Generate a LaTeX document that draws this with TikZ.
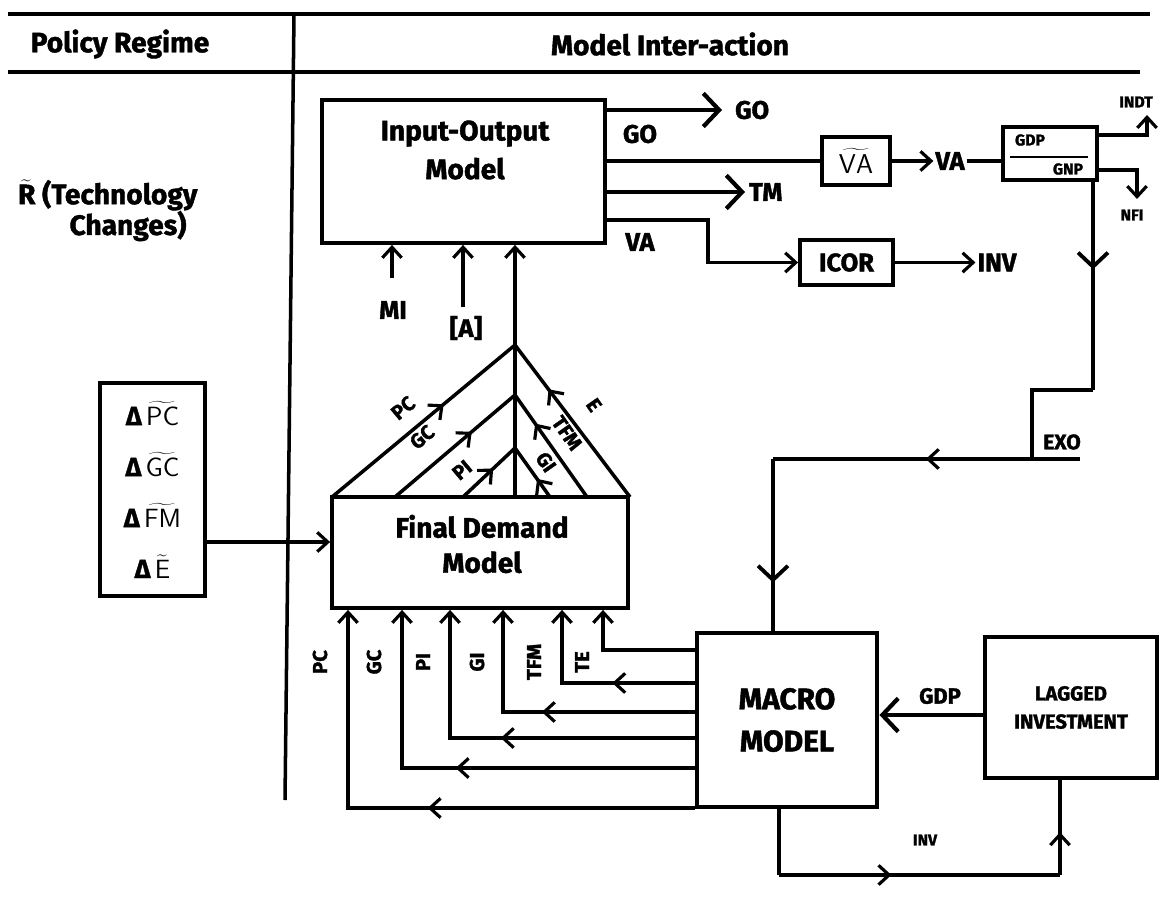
\documentclass[tikz,border=0pt]{standalone}
\usepackage{fontspec}
\setmainfont{Fira Sans}[BoldFeatures={FakeBold=1.5}]
\usetikzlibrary{arrows.meta,decorations.markings,calc}

\tikzset{
  flow/.style={line width=2pt},
  box/.style={draw, line width=2.2pt, inner sep=2pt, align=center},
  hlbl/.style={font=\bfseries\fontsize{16}{18}\selectfont, inner sep=1pt},
  lbl/.style={font=\bfseries\fontsize{14.5}{17}\selectfont, inner sep=1pt},
  tlbl/.style={font=\bfseries\fontsize{11.5}{13}\selectfont, inner sep=1pt},
  slbl/.style={font=\bfseries\fontsize{9}{10}\selectfont, inner sep=1pt},
  endbarb/.style={-{Straight Barb[length=6pt,width=11pt,line width=1.8pt]}},
  bigbarb/.style={-{Straight Barb[length=9pt,width=19pt,line width=2.4pt]}},
  midbarb/.style={postaction={decorate},
    decoration={markings, mark=at position #1 with {\arrow{Straight Barb[length=6pt,width=11pt,line width=1.8pt]}}}},
  midbigbarb/.style={postaction={decorate},
    decoration={markings, mark=at position #1 with {\arrow{Straight Barb[length=8pt,width=17pt,line width=2.2pt]}}}},
}

\begin{document}
\begin{tikzpicture}[x=0.02cm, y=-0.02cm]
\useasboundingbox (0,0) rectangle (1165,898);

% header rules
\draw[flow] (8,14) -- (1150,14);
\draw[flow] (8,72) -- (1140,72);
\draw[flow] (294,14) -- (285,800);
\node[hlbl] (polhead) at (120,44) {Policy Regime};
\node[hlbl] (modhead) at (670,44) {Model Inter-action};

% policy regime side
\node[hlbl, anchor=west] (rtech) at (16,195) {$\widetilde{\mbox{R}}$ (Technology};
\node[hlbl] (rchg) at (128,226) {Changes)};
\node[box, minimum width=2.1cm, minimum height=4.26cm, font=\fontsize{15}{17}\selectfont] (delta) at (152.5,489.5)
  {{\bfseries Δ}\,$\widetilde{\mathsf{PC}}$\\[12pt]{\bfseries Δ}\,$\widetilde{\mathsf{GC}}$\\[12pt]{\bfseries Δ}\,$\widetilde{\mathsf{FM}}$\\[12pt]{\bfseries Δ}\,$\widetilde{\mathsf{E}}$};

% model boxes
\node[box, minimum width=5.66cm, minimum height=2.86cm] (io) at (463.5,171.5) {};
\node[hlbl, align=center] (iotext) at (465,150) {Input-Output\\[4pt]Model};
\node[box, minimum width=5.92cm, minimum height=2.22cm] (fdm) at (480,552.5) {};
\node[hlbl, align=center] (fdtext) at (482,544) {Final Demand\\[2pt]Model};
\node[box, line width=2.8pt, minimum width=3.6cm, minimum height=3.48cm, font=\bfseries\fontsize{17}{20}\selectfont] (macro) at (787,720) {MACRO\\[4pt]MODEL};
\node[box, minimum width=3.44cm, minimum height=2.82cm, font=\bfseries\fontsize{11.5}{14}\selectfont] (lagged) at (1071,707.5) {LAGGED\\[2pt]INVESTMENT};
\node[box, minimum width=1.36cm, minimum height=0.96cm, font=\fontsize{15.5}{17}\selectfont] (vabox) at (856,161) {$\widetilde{\mathsf{VA}}$};
\node[box, lbl, minimum width=1.86cm, minimum height=0.9cm] (icor) at (846.5,262.5) {ICOR};
\node[box, minimum width=1.88cm, minimum height=1.06cm] (gdpbox) at (1050,153.5) {};
\node[slbl] (gdptxt) at (1030,140) {GDP};
\node[slbl] (gnptxt) at (1068,169) {GNP};
\draw[line width=1.4pt] (1010,157) -- (1088,157);

% outputs of the input-output model
\coordinate (goend) at (722,110);
\coordinate (tmend) at (745,192);
\coordinate (vabend) at (708,220);
\draw[flow, bigbarb] (io.east |- goend) -- (goend);
\node[lbl, anchor=west] (goout) at (733,110) {GO};
\node[lbl] (golbl) at (640,134) {GO};
\draw[flow] (io.east |- vabox.west) -- (vabox.west);
\node[lbl] (vaout) at (950,161) {VA};
\draw[flow, endbarb] (vabox.east) -- (vaout.west);
\draw[flow] (vaout.east) -- (gdpbox.west |- vaout.east);
\draw[flow, bigbarb] (io.east |- tmend) -- (tmend);
\node[lbl, anchor=west] (tmout) at (747,192) {TM};
\draw[flow, endbarb] (io.east |- vabend) -- (vabend) |- (icor.west);
\node[lbl] (valbl) at (640,242) {VA};
\node[lbl] (inu) at (997,262.5) {INV};
\draw[flow, endbarb] (icor.east) -- (inu.west);

% GDP / GNP outputs
\coordinate (indtc) at (1147,135);
\coordinate (indtend) at (1147,115);
\draw[flow, endbarb] (gdpbox.east |- indtc) -- (indtc) -- (indtend);
\node[slbl] (indt) at (1136,102) {INDT};
\coordinate (nfic) at (1137,170);
\coordinate (nfiend) at (1137,199);
\draw[flow, endbarb] (gdpbox.east |- nfic) -- (nfic) -- (nfiend);
\node[slbl] (nfi) at (1132,215) {NFI};

% exogenous feed to the macro model
\coordinate (c1) at (1093,390);
\coordinate (c2) at (1032,390);
\coordinate (c3) at (1032,459);
\coordinate (exoend) at (1080,459);
\coordinate (c4) at (773,459);
\draw[flow, midbigbarb=0.42] (gdpbox.south -| c1) -- (c1);
\draw[flow] (c1) -- (c2) -- (c3);
\draw[flow] (exoend) -- (c3);
\draw[flow, midbarb=0.41] (c3) -- (c4);
\draw[flow, midbigbarb=0.72] (c4) -- (macro.north -| c4);
\node[lbl, font=\bfseries\fontsize{12}{14}\selectfont] (exo) at (1062,442) {EXO};

% lagged investment loop
\coordinate (gdpline) at (930,715);
\draw[flow, bigbarb] (lagged.west |- gdpline) -- (macro.east |- gdpline);
\node[lbl, font=\bfseries\fontsize{12.5}{14}\selectfont] (gdplbl) at (940,696) {GDP};
\coordinate (m1) at (779,875);
\coordinate (m2) at (1060,875);
\draw[flow] (macro.south -| m1) -- (m1);
\draw[flow, midbarb=0.4] (m1) -- (m2);
\draw[flow, midbarb=0.45] (m2) -- (lagged.south -| m2);
\node[slbl] (invlbl) at (925,840) {INV};

% final demand to input-output
\coordinate (t1) at (515,345);
\coordinate (t2) at (515,395);
\coordinate (t3) at (515,448);
\draw[flow, endbarb] (fdm.north -| t1) -- (io.south -| t1);
\foreach \n/\x in {pc/332, gc/395, pi/463, gi/550, tfm/587, e/630}
  \coordinate (base\n) at (\x,497);
\foreach \n/\t/\p in {pc/t1/0.61, gc/t2/0.64, pi/t3/0.58, gi/t3/0.37, tfm/t2/0.72, e/t1/0.71}
  \draw[flow, midbarb=\p] (base\n) -- (\t);
\node[tlbl, rotate=40] (tpc) at (403,408) {PC};
\node[tlbl, rotate=40] (tgc) at (422,437) {GC};
\node[tlbl, rotate=40] (tpi) at (462,470) {PI};
\node[tlbl, rotate=-55] (tgi) at (546,462) {GI};
\node[tlbl, rotate=-55] (ttfm) at (567,433) {TFM};
\node[tlbl, rotate=-55] (te) at (594,405) {E};

% macro model to final demand
\foreach \n/\x/\h/\p in {pc/348/808/0.49, gc/402/768/0.53, pi/450/738/0.52, gi/503/712/0.52, tfm/562/683/0.40} {
  \coordinate (h\n) at (\x,\h);
  \draw[flow, endbarb, midbarb=\p] (macro.west |- h\n) -- (h\n) -- (fdm.south -| h\n);
}
\coordinate (hte) at (603,650);
\draw[flow, endbarb] (macro.west |- hte) -- (hte) -- (fdm.south -| hte);
\foreach \x/\lab in {320/PC, 374/GC, 423/PI, 477/GI, 534/TFM, 582/TE}
  \node[tlbl, rotate=90] (in\lab) at (\x,662) {\lab};

% policy changes to final demand
\coordinate (darrow) at (260,542);
\draw[flow, endbarb] (delta.east |- darrow) -- (fdm.west |- darrow);

% inputs to the input-output model
\coordinate (mistart) at (392,278);
\coordinate (astart) at (463,307);
\draw[flow, endbarb] (mistart) -- (io.south -| mistart);
\draw[flow, endbarb] (astart) -- (io.south -| astart);
\node[lbl] (milbl) at (393,310) {MI};
\node[lbl] (albl) at (466,328) {[A]};
\end{tikzpicture}
\end{document}
